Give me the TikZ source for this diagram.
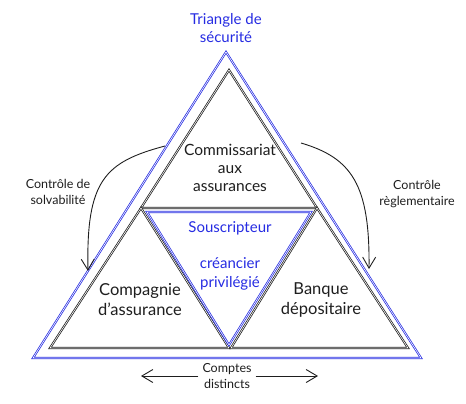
\documentclass[tikz,border=0pt]{standalone}
\usepackage{fontspec}
\setmainfont{Lato}
\usetikzlibrary{arrows.meta}
\definecolor{ink}{RGB}{38,44,226}
\definecolor{pen}{RGB}{30,30,30}

\begin{document}
\begin{tikzpicture}[x=1pt,y=-1pt]
        \tikzstyle{every node} = [align=center, text=pen]
        \tikzstyle{sketch} = [draw=pen, line width=0.75pt, double distance=0.6pt, line join=miter]
        \tikzstyle{bluesketch} = [sketch, draw=ink]
        \tikzstyle{big} = [font=\fontsize{16.5}{20}\selectfont]
        \tikzstyle{mid} = [font=\fontsize{15.5}{18}\selectfont]
        \tikzstyle{small} = [font=\fontsize{12.5}{16}\selectfont]
        \tikzstyle{bluetext} = [text=ink, font=\fontsize{15}{18.5}\selectfont]
        \tikzstyle{curve} = [draw=pen, line width=0.9pt, -{Straight Barb[length=11pt,width=13pt]}]
        \useasboundingbox (0,0) rectangle (466,404);

        % corners
        \coordinate (o1) at (226,52);
        \coordinate (o2) at (33,358);
        \coordinate (o3) at (421,358);
        \coordinate (t1) at (229,70);
        \coordinate (t2) at (141,208);
        \coordinate (t3) at (317,208);
        \coordinate (l2) at (50,348);
        \coordinate (l3) at (229,348);
        \coordinate (r2) at (231,348);
        \coordinate (r3) at (408,348);
        \coordinate (m1) at (147,212);
        \coordinate (m2) at (311,212);
        \coordinate (m3) at (229,345);

        % triangles
        \draw[bluesketch] (o1) -- (o2) -- (o3) -- cycle;
        \foreach \a/\b/\c in {t1/t2/t3, t2/l2/l3, t3/r2/r3}
            \draw[sketch] (\a) -- (\b) -- (\c) -- cycle;
        \draw[bluesketch] (m1) -- (m2) -- (m3) -- cycle;

        % labels
        \node[bluetext] (sec) at (226,28) {Triangle de\\sécurité};
        \node[mid] (cca) at (230,168) {Commissariat\\aux\\assurances};
        \node[big] (cie) at (140,300) {Compagnie\\d'assurance};
        \node[big] (bq) at (321,300) {Banque\\dépositaire};
        \node[bluetext] (sous) at (230,228) {Souscripteur};
        \node[bluetext] (cp) at (230,274) {créancier\\privilégié};
        \node[small] (solv) at (58,192) {Contrôle de\\solvabilité};
        \node[small] (regl) at (417,194) {Contrôle\\règlementaire};
        \node[small, inner sep=4pt] (cd) at (227,376) {Comptes\\distincts};

        % control arrows
        \coordinate (s1) at (165,146);
        \coordinate (e1) at (88,271);
        \coordinate (s2) at (301,143);
        \coordinate (e2) at (369,269);
        \draw[curve] (s1) .. controls (105,162) and (86,180) .. (e1);
        \draw[curve] (s2) .. controls (352,158) and (370,185) .. (e2);

        % accounts arrows
        \coordinate (a1) at (141,376);
        \coordinate (a2) at (318,376);
        \foreach \to in {a1, a2}
            \draw[curve] (cd) -- (\to);
\end{tikzpicture}
\end{document}
